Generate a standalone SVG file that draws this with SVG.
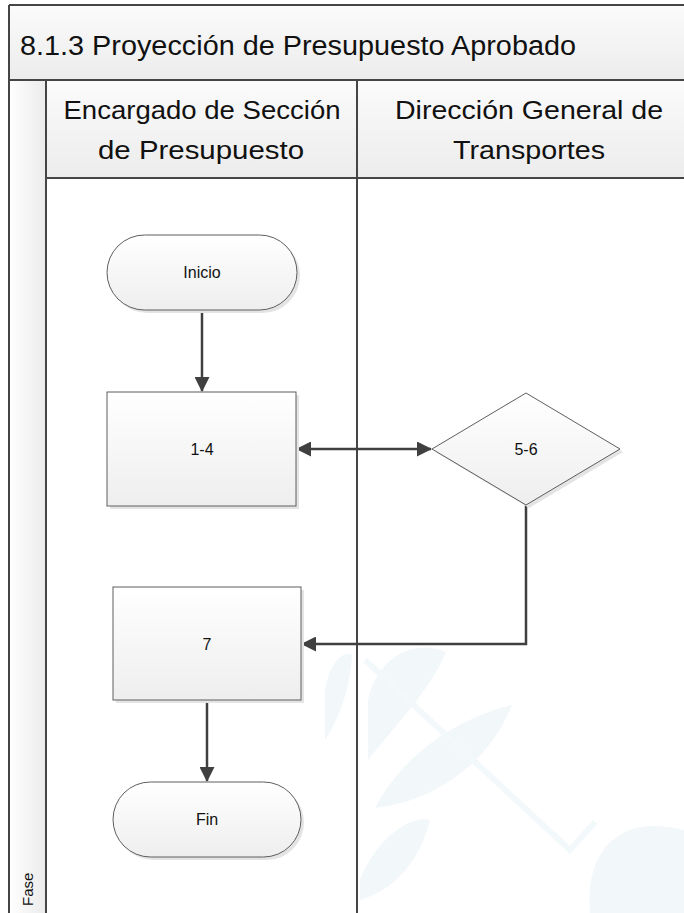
<svg xmlns="http://www.w3.org/2000/svg" width="684" height="913" viewBox="0 0 684 913">
  <defs>
    <linearGradient id="bandFill" x1="0" y1="0" x2="0" y2="1">
      <stop offset="0" stop-color="#fbfbfb"/>
      <stop offset="1" stop-color="#ececec"/>
    </linearGradient>
    <linearGradient id="faseFill" x1="0" y1="0" x2="1" y2="0">
      <stop offset="0" stop-color="#ffffff"/>
      <stop offset="1" stop-color="#ebebeb"/>
    </linearGradient>
    <linearGradient id="nodeFill" x1="0" y1="0" x2="0" y2="1">
      <stop offset="0" stop-color="#ffffff"/>
      <stop offset="1" stop-color="#eeeeee"/>
    </linearGradient>
    <marker id="arrow" viewBox="0 0 15 15" refX="14" refY="7.5" markerWidth="15" markerHeight="15" markerUnits="userSpaceOnUse" orient="auto-start-reverse">
      <path d="M0,0 L15,7.5 L0,15 z" fill="#404040"/>
    </marker>
  </defs>
  <style>
    .frame { stroke: #454545; stroke-width: 2; fill: none; }
    .node { fill: url(#nodeFill); stroke: #5e5e5e; stroke-width: 1; }
    .shadow { fill: #e4e4e4; }
    .conn { stroke: #404040; stroke-width: 2.5; fill: none; }
    .lbl { font-family: "Liberation Sans", Arial, sans-serif; font-size: 16px; fill: #111; text-anchor: middle; }
    .head { font-family: "Liberation Sans", Arial, sans-serif; font-size: 25px; fill: #111; text-anchor: middle; }
    .wm { fill: #f2f7fa; }
  </style>

  <rect x="0" y="0" width="684" height="913" fill="#ffffff"/>

  <!-- faint background emblem -->
  <g id="emblem">
    <path class="wm" d="M368,700 C380,650 420,640 446,652 C430,690 400,720 368,760 Z"/>
    <path class="wm" d="M375,808 C400,760 450,720 512,705 C490,760 440,800 375,808 Z"/>
    <path class="wm" d="M360,880 C375,840 410,815 430,820 C420,860 395,890 360,900 Z"/>
    <path class="wm" d="M325,690 C330,660 345,650 352,655 C350,690 338,720 325,740 Z"/>
    <path d="M365,660 L570,850 L595,822" stroke="#f3f8fa" stroke-width="6" fill="none"/>
    <path class="wm" d="M590,913 C585,860 610,828 650,826 C670,826 684,830 684,830 L684,913 Z"/>
  </g>

  <!-- pool and lanes -->
  <g id="pool">
    <rect x="9" y="5" width="690" height="75" fill="url(#bandFill)"/>
    <rect x="46" y="80" width="660" height="98" fill="url(#bandFill)"/>
    <rect x="9" y="80" width="37" height="833" fill="url(#faseFill)"/>
    <path class="frame" d="M9,5 H690 M9,5 V913 M9,80 H690 M46,80 V913 M46,178 H690 M357,80 V913"/>
    <text x="20" y="55" font-family="'Liberation Sans', Arial, sans-serif" font-size="27" fill="#111" textLength="556" lengthAdjust="spacingAndGlyphs">8.1.3 Proyección de Presupuesto Aprobado</text>
    <text class="head" x="202" y="119" textLength="277" lengthAdjust="spacingAndGlyphs">Encargado de Sección</text>
    <text class="head" x="201" y="159" textLength="206" lengthAdjust="spacingAndGlyphs">de Presupuesto</text>
    <text class="head" x="529" y="119" textLength="268" lengthAdjust="spacingAndGlyphs">Dirección General de</text>
    <text class="head" x="529" y="159" textLength="152" lengthAdjust="spacingAndGlyphs">Transportes</text>
    <text x="33" y="906" font-family="'Liberation Sans', Arial, sans-serif" font-size="15" fill="#111" transform="rotate(-90 33 906)">Fase</text>
  </g>

  <!-- connectors -->
  <g id="connectors">
    <line class="conn" x1="202" y1="311" x2="202" y2="391" marker-end="url(#arrow)"/>
    <line class="conn" x1="297" y1="449" x2="431" y2="449" marker-start="url(#arrow)" marker-end="url(#arrow)"/>
    <polyline class="conn" points="526,505 526,644 302,644" marker-end="url(#arrow)"/>
    <line class="conn" x1="207" y1="701" x2="207" y2="781" marker-end="url(#arrow)"/>
  </g>

  <!-- nodes -->
  <g id="inicio">
    <rect class="shadow" x="110" y="238" width="190" height="75" rx="37.5"/>
    <rect class="node" x="107" y="235" width="190" height="75" rx="37.5"/>
    <text class="lbl" x="202" y="278">Inicio</text>
  </g>
  <g id="paso-1-4">
    <rect class="shadow" x="110" y="395" width="189" height="114"/>
    <rect class="node" x="107" y="392" width="189" height="114"/>
    <text class="lbl" x="202" y="455">1-4</text>
  </g>
  <g id="decision-5-6">
    <polygon class="shadow" points="435,452 529,396 623,452 529,508"/>
    <polygon class="node" points="432,449 526,393 620,449 526,505"/>
    <text class="lbl" x="526" y="455">5-6</text>
  </g>
  <g id="paso-7">
    <rect class="shadow" x="116" y="590" width="188" height="113"/>
    <rect class="node" x="113" y="587" width="188" height="113"/>
    <text class="lbl" x="207" y="650">7</text>
  </g>
  <g id="fin">
    <rect class="shadow" x="116" y="785" width="188" height="75" rx="37.5"/>
    <rect class="node" x="113" y="782" width="188" height="75" rx="37.5"/>
    <text class="lbl" x="207" y="825">Fin</text>
  </g>
</svg>
